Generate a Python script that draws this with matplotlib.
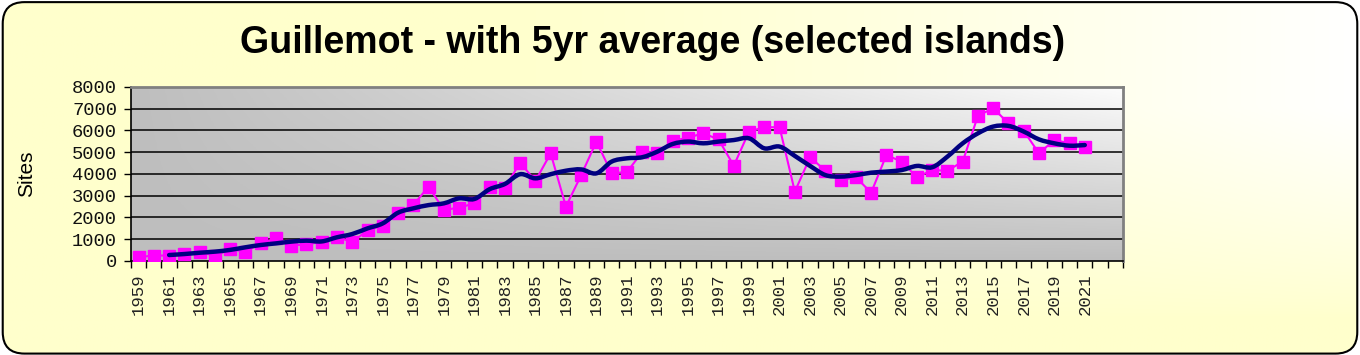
import numpy as np
import matplotlib
matplotlib.use('Agg')
import matplotlib.pyplot as plt
from matplotlib.patches import FancyBboxPatch
from matplotlib.path import Path
from matplotlib.patches import PathPatch

years = list(range(1959, 2022))
sites = [180, 250, 250, 320, 430, 230, 540, 430, 810, 1040,
         700, 780, 860, 1120, 860, 1420, 1620, 2220, 2570, 3420,
         2350, 2450, 2650, 3420, 3370, 4520, 3680, 4950, 2500, 3950,
         5490, 4030, 4090, 5010, 4980, 5520, 5670, 5870, 5590, 4380,
         5950, 6150, 6150, 3190, 4770, 4150, 3720, 3850, 3140, 4870,
         4570, 3850, 4180, 4150, 4570, 6680, 7020, 6330, 5980, 4950,
         5560, 5410, 5260]
avg_years = list(range(1961, 2022))
avg5 = [275, 320, 380, 430, 510, 630, 735, 810, 890, 935,
        900, 1090, 1240, 1500, 1730, 2220, 2420, 2570, 2650, 2880,
        2850, 3300, 3540, 3990, 3800, 3990, 4150, 4210, 4030, 4570,
        4720, 4770, 5030, 5380, 5490, 5410, 5490, 5560, 5640, 5180,
        5260, 4830, 4370, 3950, 3880, 3950, 4060, 4110, 4180, 4370,
        4310, 4800, 5410, 5870, 6180, 6210, 5950, 5590, 5410, 5300,
        5330]
n_cats = 65  # axis has two empty categories after 2021


def smooth_path(xs, ys):
    # Catmull-Rom through the points, drawn as cubic bezier segments
    pts = np.column_stack([xs, ys]).astype(float)
    verts = [pts[0]]
    codes = [Path.MOVETO]
    for i in range(len(pts) - 1):
        p0 = pts[i - 1] if i > 0 else pts[i]
        p1 = pts[i]
        p2 = pts[i + 1]
        p3 = pts[i + 2] if i + 2 < len(pts) else pts[i + 1]
        c1 = p1 + (p2 - p0) / 6.0
        c2 = p2 - (p3 - p1) / 6.0
        verts += [c1, c2, p2]
        codes += [Path.CURVE4] * 3
    return Path(verts, codes)


fig = plt.figure(figsize=(13.6, 3.55), dpi=100)
fig.patch.set_facecolor('white')

# background: rounded box, white in the upper right fading to pale yellow
bgax = fig.add_axes([0, 0, 1, 1], zorder=-10)
bgax.set_xlim(0, 1)
bgax.set_ylim(0, 1)
bgax.axis('off')
fx, fy = np.meshgrid(np.linspace(0, 1, 400), np.linspace(0, 1, 120))
w = np.clip((fx - 0.35) / 0.65, 0, 1) ** 1.2 * np.clip((fy - 0.1) / 0.6, 0, 1) ** 0.8
yellow = np.array([1.0, 1.0, 0.80])
bgimg = yellow[None, None, :] + (1 - yellow)[None, None, :] * w[:, :, None]
im = bgax.imshow(bgimg, extent=[0, 1, 0, 1], origin='lower', aspect='auto')
box = FancyBboxPatch((0.002, 0.004), 0.996, 0.99,
                     boxstyle='round,pad=0,rounding_size=0.016',
                     transform=bgax.transData, facecolor='none',
                     edgecolor='black', linewidth=1.5, mutation_aspect=3.8)
bgax.add_patch(box)
im.set_clip_path(box)

ax = fig.add_axes([0.0963, 0.2648, 0.7294, 0.4902])
ax.set_xlim(-0.5, n_cats - 0.5)
ax.set_ylim(0, 8000)

# gradient plot area
gx, gy = np.meshgrid(np.linspace(0, 1, 300), np.linspace(0, 1, 100))
shade = (190 + 62 * gx * gy) / 255.0
img = np.dstack([shade, shade, shade])
ax.imshow(img, extent=[-0.5, n_cats - 0.5, 0, 8000], origin='lower',
          aspect='auto', zorder=0)

for v in range(1000, 8000, 1000):
    ax.axhline(v, color='black', linewidth=1.1, zorder=1)

x_pos = [y - 1959 for y in years]
ax.plot(x_pos, sites, color='#FF00FF', linewidth=1.5, marker='s',
        markersize=9, markeredgecolor='#FF00FF', zorder=3)

avg_pos = [y - 1959 for y in avg_years]
ax.add_patch(PathPatch(smooth_path(avg_pos, avg5), facecolor='none',
                       edgecolor='#000080', linewidth=3.2, zorder=4,
                       capstyle='round'))

ax.set_yticks(range(0, 8001, 1000))
ax.set_yticklabels([str(v) for v in range(0, 8001, 1000)], fontsize=13.5,
                   family='Liberation Mono', color='#111111')
ax.set_xticks([i + 0.5 for i in range(-1, n_cats)], minor=True)
ax.set_xticks([y - 1959 for y in years[::2]])
ax.set_xticklabels([str(y) for y in years[::2]], rotation=90, fontsize=12.5,
                   family='Liberation Mono', color='#222222')
ax.tick_params(axis='x', which='major', length=0, pad=9)
ax.tick_params(axis='x', which='minor', length=5, width=1, direction='out')
ax.tick_params(axis='y', length=5, width=1, direction='out', pad=5)

for s in ['top', 'right']:
    ax.spines[s].set_color('#808080')
    ax.spines[s].set_linewidth(2)
for s in ['left', 'bottom']:
    ax.spines[s].set_color('black')
    ax.spines[s].set_linewidth(1.2)

ax.set_ylabel('Sites', fontsize=15, family='Liberation Sans', labelpad=26)
fig.text(0.48, 0.88, 'Guillemot - with 5yr average (selected islands)',
         ha='center', va='center', fontsize=27, fontweight='bold',
         family='Liberation Sans')

fig.savefig('out.png', dpi=100)
